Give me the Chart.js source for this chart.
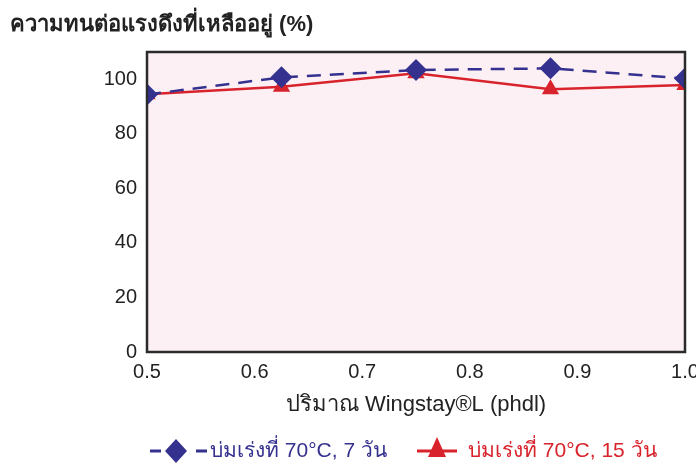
<!DOCTYPE html>
<html>
<head>
<meta charset="utf-8">
<script src="https://cdn.jsdelivr.net/npm/chart.js@4/dist/chart.umd.min.js"></script>
<style>
  html, body { margin: 0; padding: 0; background: #fff; }
  #wrap { width: 696px; height: 466px; }
</style>
</head>
<body>
<div id="wrap"><canvas id="grafica"></canvas></div>
<script>
// datos
var cantidades = [0.5, 0.625, 0.75, 0.875, 1.0];
var serie7dias = [94.4, 100.7, 103.4, 104.0, 100.3];
var serie15dias = [94.5, 97.3, 102.2, 96.3, 97.9];
var ticksY = [0, 20, 40, 60, 80, 100];

var etiqueta7 = 'บ่มเร่งที่ 70°C, 7 วัน';
var etiqueta15 = 'บ่มเร่งที่ 70°C, 15 วัน';

var azul = '#35318f';
var rojo = '#d8232c';
var fuente = '"Liberation Sans", Arial, "Noto Sans", sans-serif';

function puntos(xs, ys) {
    return xs.map((x, i) => ({ x: x, y: ys[i] }));
}

// fondo rosado y marco del área del gráfico
var marco = {
    id: 'marco',
    beforeDraw: function(chart) {
        var a = chart.chartArea, ctx = chart.ctx;
        ctx.save();
        ctx.fillStyle = '#fcf0f4';
        ctx.fillRect(a.left, a.top, a.right - a.left, a.bottom - a.top);
        ctx.restore();
    },
    afterDatasetsDraw: function(chart) {
        var a = chart.chartArea, ctx = chart.ctx;
        ctx.save();
        ctx.strokeStyle = '#2b2b2b';
        ctx.lineWidth = 2.5;
        ctx.strokeRect(a.left, a.top, a.right - a.left, a.bottom - a.top);
        ctx.restore();
    }
};

// leyenda inferior dibujada a mano
var leyenda = {
    id: 'leyenda',
    afterDraw: function(chart) {
        var ctx = chart.ctx;
        var y = 451;
        ctx.save();
        ctx.lineWidth = 3;
        // serie 7 días
        ctx.strokeStyle = azul;
        ctx.beginPath();
        ctx.moveTo(150, y); ctx.lineTo(161, y);
        ctx.moveTo(196, y); ctx.lineTo(207, y);
        ctx.stroke();
        ctx.fillStyle = azul;
        ctx.beginPath();
        ctx.moveTo(176, y - 12); ctx.lineTo(187, y); ctx.lineTo(176, y + 12); ctx.lineTo(165, y);
        ctx.closePath(); ctx.fill();
        ctx.font = '21px ' + fuente;
        ctx.textBaseline = 'middle';
        ctx.fillText(etiqueta7, 210, y);
        // serie 15 días
        ctx.strokeStyle = rojo;
        ctx.beginPath();
        ctx.moveTo(417, y); ctx.lineTo(457, y);
        ctx.stroke();
        ctx.fillStyle = rojo;
        ctx.beginPath();
        ctx.moveTo(437, y - 14); ctx.lineTo(446, y + 6); ctx.lineTo(428, y + 6);
        ctx.closePath(); ctx.fill();
        ctx.fillText(etiqueta15, 468, y);
        ctx.restore();
    }
};

var ctx = document.getElementById('grafica').getContext('2d');
var grafica = new Chart(ctx, {
    type: 'line',
    data: {
        datasets: [{
            label: etiqueta7,
            data: puntos(cantidades, serie7dias),
            borderColor: azul,
            backgroundColor: azul,
            borderWidth: 2.5,
            borderDash: [14, 9],
            pointStyle: 'rectRot',
            pointRadius: 11,
            pointBorderWidth: 0,
            tension: 0
        }, {
            label: etiqueta15,
            data: puntos(cantidades, serie15dias),
            borderColor: rojo,
            backgroundColor: rojo,
            borderWidth: 2.5,
            pointStyle: 'triangle',
            pointRadius: 10,
            pointBorderWidth: 0,
            tension: 0
        }]
    },
    options: {
        responsive: true,
        maintainAspectRatio: false,
        animation: false,
        layout: {
            padding: { left: 10, right: 10, top: 0, bottom: 46 }
        },
        plugins: {
            legend: { display: false },
            tooltip: { enabled: false },
            title: {
                display: true,
                text: 'ความทนต่อแรงดึงที่เหลืออยู่ (%)',
                align: 'start',
                color: '#222',
                font: { family: fuente, size: 22, weight: 'bold', lineHeight: 1.2 },
                padding: { top: 12, bottom: 13.6 }
            }
        },
        scales: {
            x: {
                type: 'linear',
                min: 0.5,
                max: 1.0,
                grid: { display: false, drawTicks: false },
                border: { display: false },
                ticks: {
                    stepSize: 0.1,
                    padding: 8,
                    color: '#222',
                    font: { family: fuente, size: 20 },
                    callback: function(v) { return Number(v).toFixed(1); }
                },
                title: {
                    display: true,
                    text: 'ปริมาณ Wingstay®L (phdl)',
                    color: '#222',
                    font: { family: fuente, size: 22 },
                    padding: { top: 0, bottom: 2 }
                },
                afterFit: function(scale) {
                    scale.paddingLeft = 0;
                    scale.paddingRight = 0;
                    scale.height = 68;
                }
            },
            y: {
                min: 0,
                max: 110,
                grid: { display: false, drawTicks: false },
                border: { display: false },
                afterBuildTicks: function(scale) {
                    scale.ticks = ticksY.map(v => ({ value: v }));
                },
                ticks: {
                    padding: 10,
                    color: '#222',
                    font: { family: fuente, size: 20 }
                },
                afterFit: function(scale) {
                    scale.width = 137;
                }
            }
        }
    },
    plugins: [marco, leyenda]
});
</script>
</body>
</html>
